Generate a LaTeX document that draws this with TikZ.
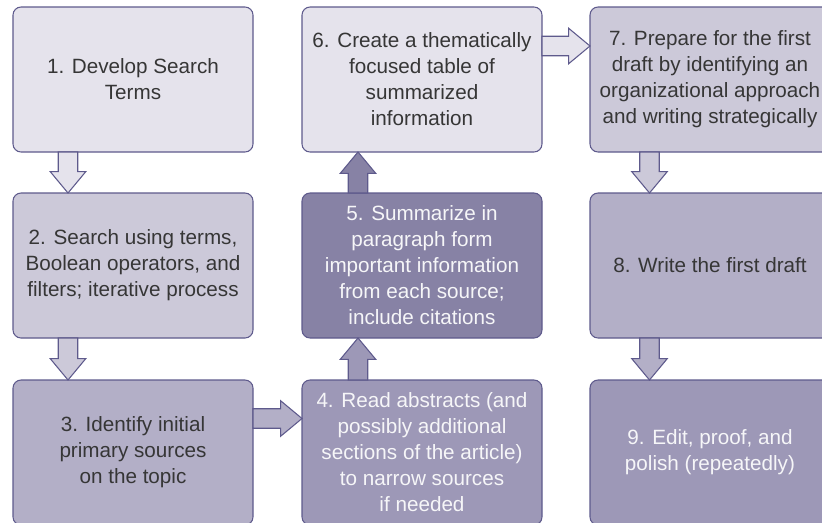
\documentclass[tikz,border=0pt]{standalone}
\usepackage{fontspec}
\setmainfont{Liberation Sans}
\usepackage{xcolor}
\usepackage{tikz}
\usetikzlibrary{calc}

\definecolor{shadeA}{HTML}{E5E3EC}
\definecolor{shadeB}{HTML}{CCC9D9}
\definecolor{shadeC}{HTML}{B3AFC7}
\definecolor{shadeD}{HTML}{9D98B7}
\definecolor{shadeE}{HTML}{8782A5}
\definecolor{boxedge}{HTML}{5E5A8C}
\definecolor{inkdark}{HTML}{363636}
\definecolor{inklight}{HTML}{F6F6F8}

\tikzset{
  stagebox/.style={draw=boxedge, line width=0.8pt, rounded corners=6pt, anchor=north west,
    minimum width=180pt, minimum height=108.75pt, inner sep=2pt, outer sep=0pt,
    align=center, font=\fontsize{15.5}{19.5}\selectfont},
  arrowline/.style={draw=boxedge, line width=0.8pt, line join=miter},
}

% block arrow from #1 to #2, filled with #3
\def\arrshaft{7.3pt}
\def\arrhead{13.3pt}
\def\arrlen{16pt}
\newcommand{\fatarrow}[3]{%
  \coordinate (hb) at ($(#2)!\arrlen!(#1)$);
  \draw [arrowline, fill=#3]
    ($(#1)!\arrshaft!90:(#2)$) -- ($(hb)!\arrshaft!90:(#2)$) -- ($(hb)!\arrhead!90:(#2)$)
    -- (#2)
    -- ($(hb)!\arrhead!-90:(#2)$) -- ($(hb)!\arrshaft!-90:(#2)$) -- ($(#1)!\arrshaft!-90:(#2)$) -- cycle;}

\begin{document}
\begin{tikzpicture}[x=0.75pt,y=0.75pt,yscale=-1,xscale=1]
  \useasboundingbox (0,0) rectangle (822,522);
  \clip (0,0) rectangle (822,522);

  % Text Node
  \node [stagebox, fill=shadeA, text=inkdark] (n1) at (13,7) {1. Develop Search\\Terms};
  % Text Node
  \node [stagebox, fill=shadeB, text=inkdark] (n2) at (13,193) {2. Search using terms,\\Boolean operators, and\\filters; iterative process};
  % Text Node
  \node [stagebox, fill=shadeC, text=inkdark] (n3) at (13,380) {3. Identify initial\\primary sources\\on the topic};
  % Text Node
  \node [stagebox, fill=shadeD, text=inklight] (n4) at (302,380) {4. Read abstracts (and\\possibly additional\\sections of the article)\\to narrow sources\\if needed};
  % Text Node
  \node [stagebox, fill=shadeE, text=inklight] (n5) at (302,193) {5. Summarize in\\paragraph form\\important information\\from each source;\\include citations};
  % Text Node
  \node [stagebox, fill=shadeA, text=inkdark] (n6) at (302,7) {6. Create a thematically\\focused table of\\summarized\\information};
  % Text Node
  \node [stagebox, fill=shadeB, text=inkdark] (n7) at (590,7) {7. Prepare for the first\\draft by identifying an\\organizational approach\\and writing strategically};
  % Text Node
  \node [stagebox, fill=shadeC, text=inkdark] (n8) at (590,193) {8. Write the first draft};
  % Text Node
  \node [stagebox, fill=shadeD, text=inklight] (n9) at (590,380) {9. Edit, proof, and\\polish (repeatedly)};

  % arrow ends
  \coordinate (a12s) at ($(n1.south west)+(55,0)$);
  \coordinate (a12t) at ($(n2.north west)+(55,0)$);
  \coordinate (a23s) at ($(n2.south west)+(55,0)$);
  \coordinate (a23t) at ($(n3.north west)+(55,0)$);
  \coordinate (a34s) at ($(n3.north east)+(0,38.5)$);
  \coordinate (a34t) at ($(n4.north west)+(0,38.5)$);
  \coordinate (a45s) at ($(n4.north west)+(56,0)$);
  \coordinate (a45t) at ($(n5.south west)+(56,0)$);
  \coordinate (a56s) at ($(n5.north west)+(56,0)$);
  \coordinate (a56t) at ($(n6.south west)+(56,0)$);
  \coordinate (a67s) at ($(n6.north east)+(0,39)$);
  \coordinate (a67t) at ($(n7.north west)+(0,39)$);
  \coordinate (a78s) at ($(n7.south west)+(59.5,0)$);
  \coordinate (a78t) at ($(n8.north west)+(59.5,0)$);
  \coordinate (a89s) at ($(n8.south west)+(59.5,0)$);
  \coordinate (a89t) at ($(n9.north west)+(59.5,0)$);

  %Block Arrows
  \fatarrow{a12s}{a12t}{shadeA}
  \fatarrow{a23s}{a23t}{shadeB}
  \fatarrow{a34s}{a34t}{shadeC}
  \fatarrow{a45s}{a45t}{shadeD}
  \fatarrow{a56s}{a56t}{shadeE}
  \fatarrow{a67s}{a67t}{shadeA}
  \fatarrow{a78s}{a78t}{shadeB}
  \fatarrow{a89s}{a89t}{shadeC}
\end{tikzpicture}
\end{document}
